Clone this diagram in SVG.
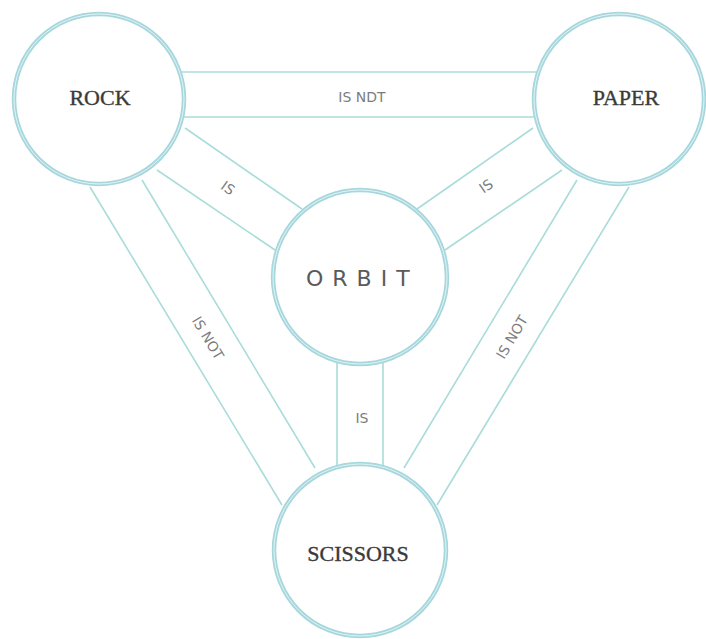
<svg xmlns="http://www.w3.org/2000/svg" width="706" height="639" viewBox="0 0 706 639">
<style>
.ring{fill:#fff;stroke:#a6d7dd;stroke-width:4.5}
.ring2{fill:none;stroke:#e2f3f5;stroke-width:1}
.band{stroke:#a9dcd9;stroke-width:1.6;fill:none}
.name{font-family:"Liberation Serif","Times New Roman",serif;font-size:22px;fill:#3a3a3a;text-anchor:middle;stroke:#3a3a3a;stroke-width:0.35}
.lbl{font-family:"DejaVu Sans","Liberation Sans",sans-serif;font-size:14px;fill:#7d7d7d;text-anchor:middle}
.orbit{font-family:"DejaVu Sans","Liberation Sans",sans-serif;font-size:22px;fill:#5a5a5a;letter-spacing:9px}
</style>
<rect width="706" height="639" fill="#fff"/>
<g id="connectors">
  <line class="band" x1="181" y1="72" x2="537" y2="72"/>
  <line class="band" x1="181" y1="117" x2="537" y2="117"/>
  <line class="band" x1="185" y1="128" x2="302" y2="209"/>
  <line class="band" x1="157" y1="170" x2="275" y2="250"/>
  <line class="band" x1="533" y1="128" x2="417" y2="209"/>
  <line class="band" x1="562" y1="170" x2="445" y2="250"/>
  <line class="band" x1="90" y1="187" x2="282" y2="505"/>
  <line class="band" x1="142" y1="180" x2="315" y2="468"/>
  <line class="band" x1="629" y1="187" x2="437" y2="505"/>
  <line class="band" x1="577" y1="180" x2="404" y2="468"/>
  <line class="band" x1="337" y1="362" x2="337" y2="467"/>
  <line class="band" x1="383" y1="362" x2="383" y2="467"/>
  <text class="lbl" x="362" y="102">IS NDT</text>
  <text class="lbl" transform="translate(228,188) rotate(35)" dy="5">IS</text>
  <text class="lbl" transform="translate(486,186) rotate(-35)" dy="5">IS</text>
  <text class="lbl" transform="translate(208,338) rotate(59)" dy="5">IS NOT</text>
  <text class="lbl" transform="translate(512,337) rotate(-59)" dy="5">IS NOT</text>
  <text class="lbl" x="362" y="423">IS</text>
</g>
<g id="rock">
  <circle class="ring" cx="99" cy="99" r="85"/>
  <circle class="ring2" cx="99" cy="99" r="85"/>
  <text class="name" x="100" y="105">ROCK</text>
</g>
<g id="paper">
  <circle class="ring" cx="619" cy="99" r="85"/>
  <circle class="ring2" cx="619" cy="99" r="85"/>
  <text class="name" x="626" y="105">PAPER</text>
</g>
<g id="orbit">
  <circle class="ring" cx="360" cy="277" r="87"/>
  <circle class="ring2" cx="360" cy="277" r="87"/>
  <text class="orbit" x="306" y="286">ORBIT</text>
</g>
<g id="scissors">
  <circle class="ring" cx="360" cy="550" r="86"/>
  <circle class="ring2" cx="360" cy="550" r="86"/>
  <text class="name" x="358" y="561">SCISSORS</text>
</g>
</svg>
